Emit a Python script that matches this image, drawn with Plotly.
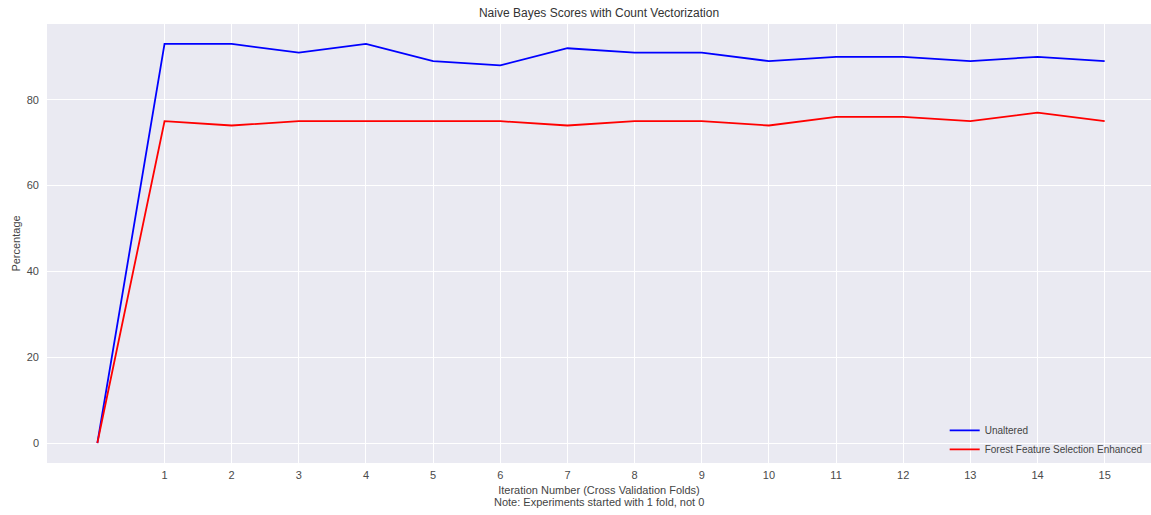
import plotly.graph_objects as go

folds = list(range(0, 16))
unaltered = [0, 93, 93, 91, 93, 89, 88, 92, 91, 91, 89, 90, 90, 89, 90, 89]
forest = [0, 75, 74, 75, 75, 75, 75, 74, 75, 75, 74, 76, 76, 75, 77, 75]
x_ticks = list(range(1, 16))
y_ticks = [0, 20, 40, 60, 80]

FONT = "Liberation Sans, Arial, sans-serif"

fig = go.Figure()
fig.add_trace(go.Scatter(x=folds, y=unaltered, mode="lines", name="Unaltered",
                         line=dict(color="#0000ff", width=1.8)))
fig.add_trace(go.Scatter(x=folds, y=forest, mode="lines",
                         name="Forest Feature Selection Enhanced",
                         line=dict(color="#ff0000", width=1.8)))

fig.update_layout(
    width=1151, height=515,
    margin=dict(l=47, r=0, t=24, b=52),
    paper_bgcolor="white",
    plot_bgcolor="#EAEAF2",
    font=dict(family=FONT, size=11, color="#4a4a4a"),
    title=dict(text="Naive Bayes Scores with Count Vectorization",
               x=0.5, xanchor="center", xref="paper",
               y=1 - 13 / 515, yanchor="middle", yref="container",
               font=dict(size=12, color="#333333")),
    showlegend=True,
    legend=dict(x=0.997, xanchor="right", y=-0.002, yanchor="bottom",
                bgcolor="rgba(0,0,0,0)", font=dict(size=10, color="#444444"),
                itemwidth=30),
    xaxis=dict(range=[-0.75, 15.69], tickvals=x_ticks, ticktext=[str(v) for v in x_ticks],
               showgrid=True, gridcolor="white", gridwidth=1.2, zeroline=False,
               showline=False, ticks="", ticklabelstandoff=4,
               title=dict(text="Iteration Number (Cross Validation Folds)",
                          standoff=6, font=dict(size=11, color="#444444"))),
    yaxis=dict(range=[-4.65, 97.65], tickvals=y_ticks,
               showgrid=True, gridcolor="white", gridwidth=1.2, zeroline=False,
               showline=False, ticks="", ticklabelstandoff=7,
               title=dict(text="Percentage", standoff=3,
                          font=dict(size=11, color="#444444"))),
    annotations=[dict(text="Note: Experiments started with 1 fold, not 0",
                      x=0.5, xref="paper", xanchor="center",
                      y=(463 - 502) / 439, yref="paper",
                      yanchor="middle", showarrow=False,
                      font=dict(size=11, color="#444444"))],
)

fig.write_html("out.html")
